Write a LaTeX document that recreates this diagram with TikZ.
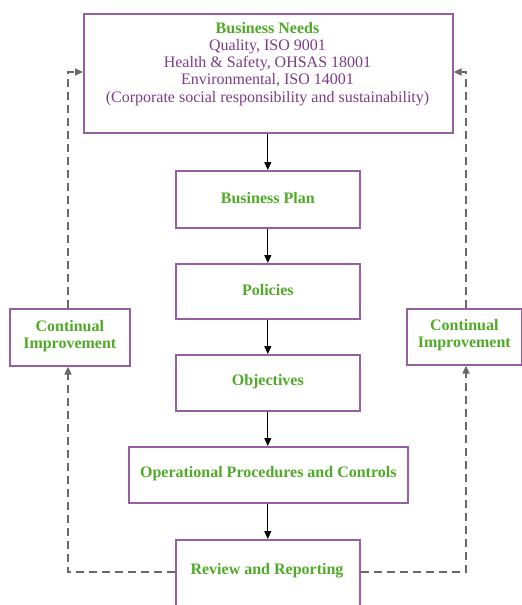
\documentclass[tikz,border=0pt]{standalone}
\usepackage{fontspec}
\setmainfont{Liberation Serif}
\usetikzlibrary{arrows.meta}
\definecolor{boxline}{RGB}{150,95,160}
\definecolor{txtgreen}{RGB}{80,170,40}
\definecolor{txtpurple}{RGB}{125,60,135}
\definecolor{dashgray}{RGB}{105,105,105}
\tikzset{
  box/.style={draw=boxline, line width=1.6pt, fill=white, inner sep=0pt, align=center, anchor=north west},
  ttl/.style={font=\fontsize{16}{17}\selectfont\bfseries, text=txtgreen, yshift=1.5pt},
  flow/.style={-{Triangle[length=8pt,width=7pt]}, line width=1pt, black},
  loop/.style={-{Triangle[length=8pt,width=7pt]}, dashgray, line width=1.8pt, dash pattern=on 8pt off 5pt}
}
\begin{document}
\begin{tikzpicture}[x=1pt,y=-1pt]
\useasboundingbox (0,0) rectangle (522,605);
\clip (0,0) rectangle (522,605);
% top box
\node[box, minimum width=369pt, minimum height=119pt] (needs) at (83,13) {};
\node[font=\fontsize{16}{16.8}\selectfont, text=txtpurple, align=center, anchor=north] (needstxt) at (267.5,19)
 {{\bfseries\color{txtgreen}Business Needs}\\Quality, ISO 9001\\Health \& Safety, OHSAS 18001\\Environmental, ISO 14001\\[1.5pt](Corporate social responsibility and sustainability)};
% chain
\node[box, minimum width=184pt, minimum height=57pt] (plan) at (175,170) {};
\node[ttl] at (plan.center) {Business Plan};
\node[box, minimum width=184pt, minimum height=55pt] (pol) at (175,263) {};
\node[ttl] at (pol.center) {Policies};
\node[box, minimum width=184pt, minimum height=56pt] (obj) at (175,354) {};
\node[ttl] at (obj.center) {Objectives};
\node[box, minimum width=279pt, minimum height=56pt] (ops) at (128,446) {};
\node[ttl] at (ops.center) {Operational Procedures and Controls};
\node[box, minimum width=184pt, minimum height=90pt] (rev) at (175,539) {};
\node[ttl] at (267,572) {Review and Reporting};
% side boxes
\node[box, minimum width=120pt, minimum height=57pt] (cl) at (9,308) {};
\node[ttl, align=center] at (cl.center) {Continual\\Improvement};
\node[box, minimum width=115pt, minimum height=56pt] (cr) at (406,308) {};
\node[ttl, align=center] at (cr.center) {Continual\\Improvement};
% flow arrows
\draw[flow] (needs.south -| plan.north) -- (plan.north);
\draw[flow] (plan) -- (pol);
\draw[flow] (pol) -- (obj);
\draw[flow] (obj.south) -- (obj.south |- ops.north);
\draw[flow] (ops.south -| rev.north) -- (rev.north);
% dashed loops
\coordinate (lb) at (68,572);
\coordinate (lt) at (68,72);
\coordinate (rb) at (466,572);
\coordinate (rt) at (466,72);
\draw[loop] (rev.west |- lb) -- (lb) -- (lb |- cl.south);
\draw[loop] (lt |- cl.north) -- (lt) -- (lt -| needs.west);
\draw[loop] (rev.east |- rb) -- (rb) -- (rb |- cr.south);
\draw[loop] (rt |- cr.north) -- (rt) -- (rt -| needs.east);
\end{tikzpicture}
\end{document}
